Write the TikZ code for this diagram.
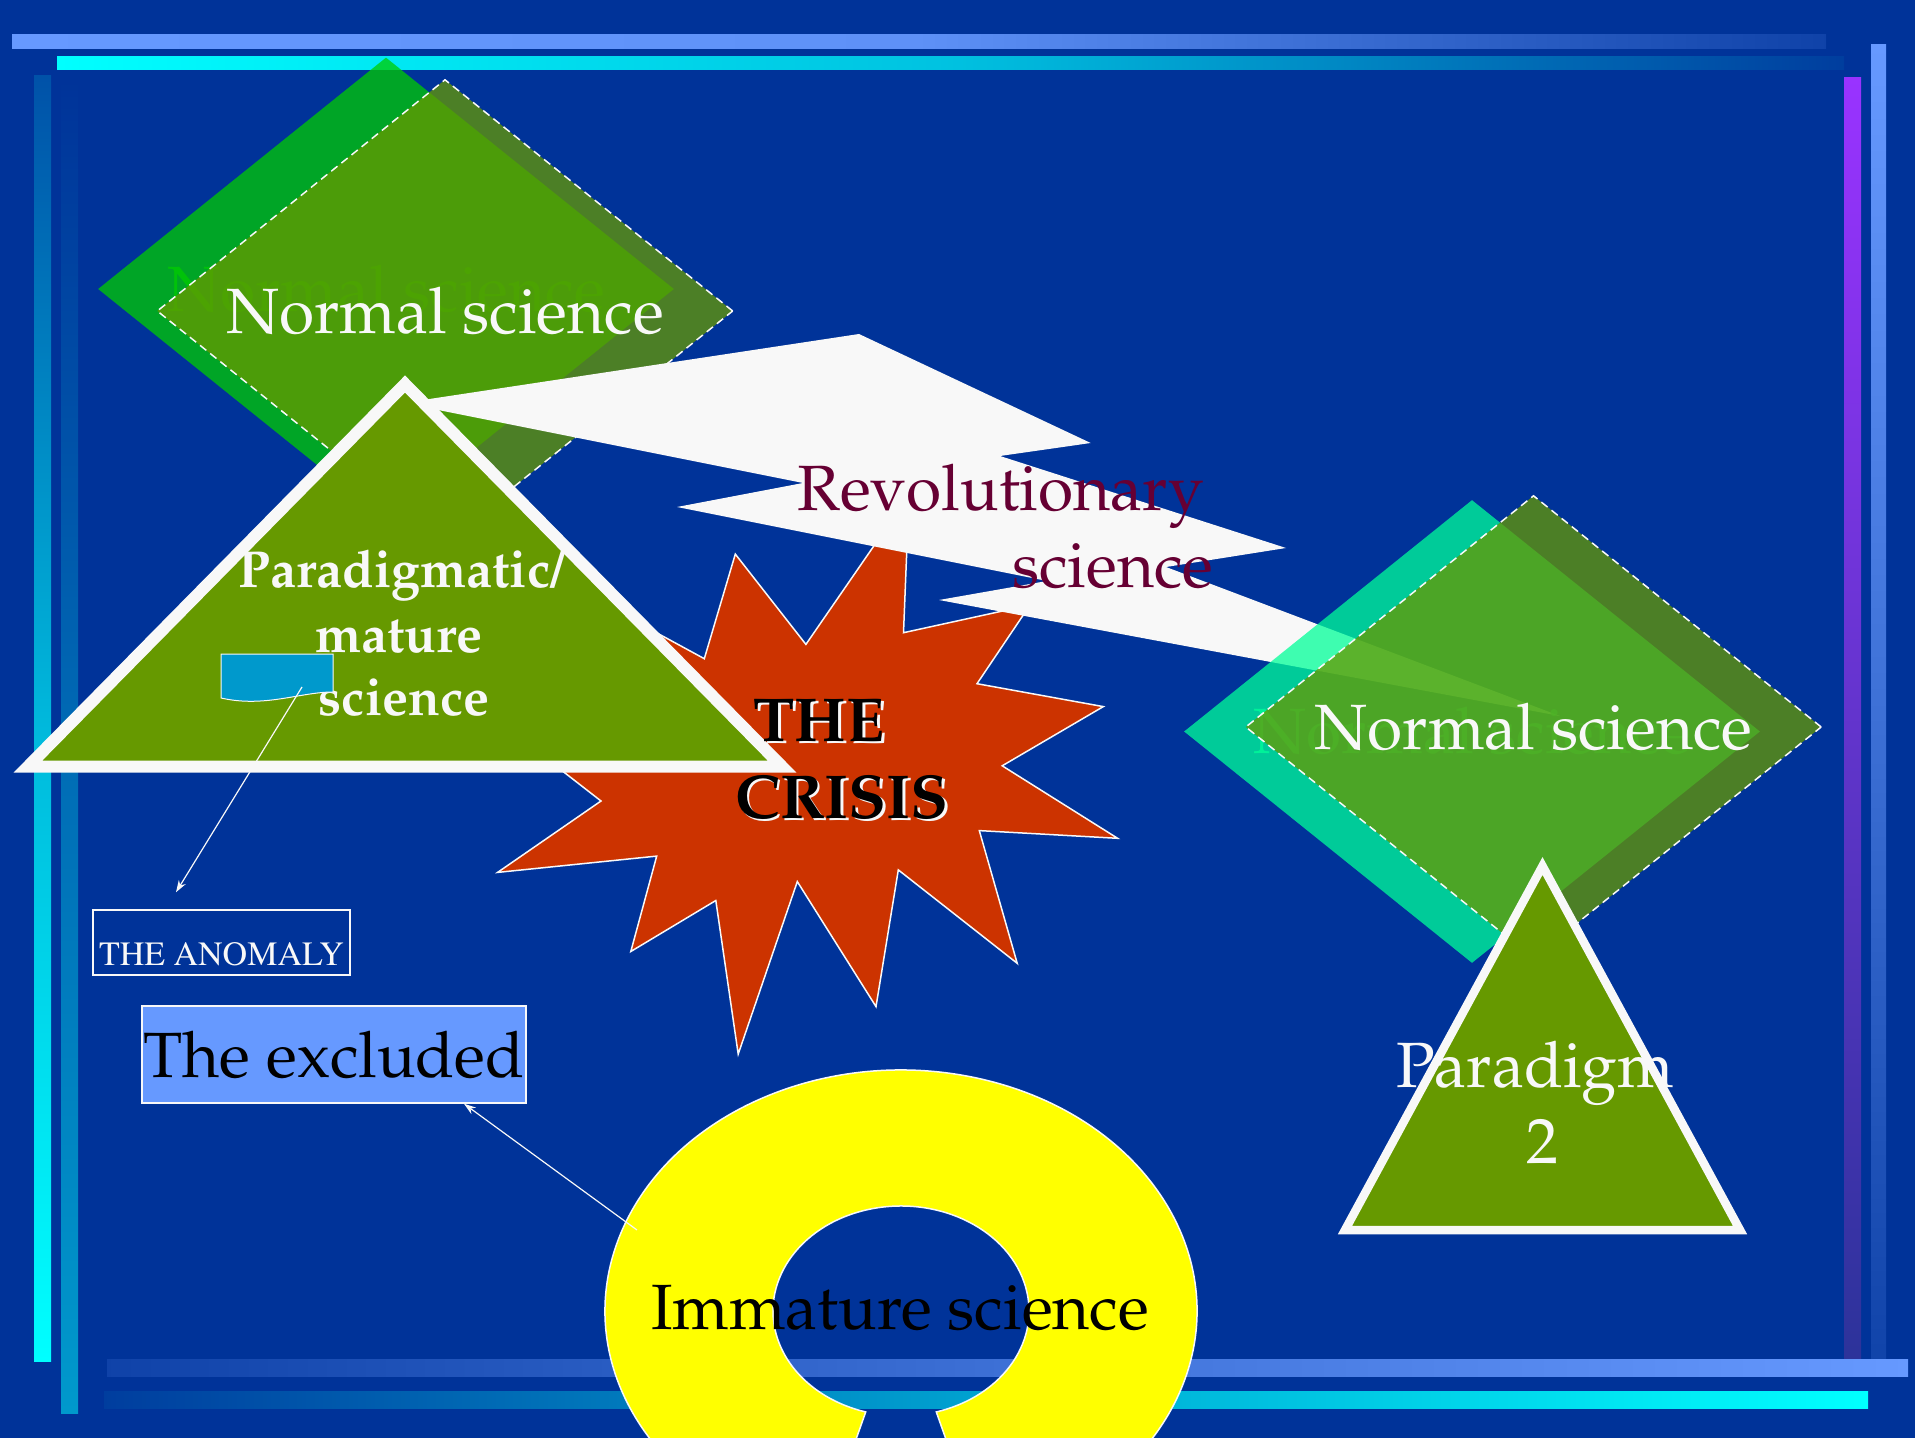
\documentclass[tikz,border=0pt]{standalone}
\usepackage[T1]{fontenc}
\renewcommand{\rmdefault}{ppl}
\usetikzlibrary{shapes.geometric,arrows.meta,calc}
\definecolor{bgblue}{HTML}{003399}
\definecolor{offwhite}{HTML}{F8F8F8}
\definecolor{shadegreen}{HTML}{00CC00}
\definecolor{olivegreen}{HTML}{669900}
\definecolor{mintgreen}{HTML}{00FF99}
\definecolor{crisisred}{HTML}{CC3300}
\definecolor{maroonc}{HTML}{660033}
\definecolor{paleblue}{HTML}{6699FF}
\definecolor{noteblue}{HTML}{0099CC}
\definecolor{ringyellow}{HTML}{FFFF00}
\definecolor{barpurple}{HTML}{9933FF}
\definecolor{barpurplemid}{HTML}{6234CC}
\definecolor{barpurpleend}{HTML}{2B3399}
\newcommand{\fsMain}{\fontsize{32}{38}\selectfont}
\newcommand{\fsBold}{\fontsize{26}{32}\selectfont\bfseries}
\newcommand{\fsCrisis}{\fontsize{31}{38}\selectfont\bfseries}
\newcommand{\fsTimes}{\fontfamily{ptm}\fontsize{17}{20}\selectfont}
\tikzset{
  diabase/.style={diamond, aspect=1.244, minimum width=288pt, minimum height=231.5pt, inner sep=0pt, font=\fsMain},
  shadowdia/.style={diabase, fill opacity=.75, text opacity=.75},
  frontdia/.style={diabase, fill=olivegreen, fill opacity=.75, text=offwhite, text opacity=1, draw=offwhite, draw opacity=1, line width=.75pt, dash pattern=on 4pt off 2.5pt},
  tri/.style={fill=olivegreen, draw=offwhite, line join=miter},
  lbl/.style={anchor=base, inner sep=0pt, font=\fsMain},
  conn/.style={draw=offwhite, line width=.6pt, -{Stealth[length=6pt,width=4pt]}},
  thinwhite/.style={draw=offwhite, line width=.75pt},
}
\begin{document}
\begin{tikzpicture}[x=0.5pt,y=-0.5pt]
\useasboundingbox (0,0) rectangle (1915,1438);
\fill[bgblue] (0,0) rectangle (1915,1438);
\begin{scope}
\clip (0,0) rectangle (1915,1438);
% decorative bars
\shade[left color=paleblue, right color=bgblue!85!paleblue, middle color=paleblue!92!bgblue] (12,35) rectangle (1826,49);
\shade[left color=cyan, right color=bgblue!95!cyan, middle color=cyan!70!bgblue] (57,57) rectangle (1844,70);
\shade[top color=bgblue!85!cyan, bottom color=cyan, middle color=cyan!65!bgblue] (34,76) rectangle (51,1361);
\shade[top color=bgblue, bottom color=noteblue, middle color=noteblue!55!bgblue] (61,79) rectangle (78,1413);
\shade[top color=barpurple, bottom color=barpurpleend, middle color=barpurplemid] (1844,78) rectangle (1861,1375);
\shade[top color=paleblue, bottom color=bgblue!85!paleblue, middle color=paleblue!60!bgblue] (1871,45) rectangle (1886,1375);
\shade[left color=bgblue!85!paleblue, right color=paleblue, middle color=paleblue!60!bgblue] (107,1359) rectangle (1908,1376);
\shade[left color=bgblue!95!cyan, right color=cyan, middle color=cyan!55!bgblue] (104,1391) rectangle (1868,1408);

% left diamonds
\node[shadowdia, fill=shadegreen, text=shadegreen] (nsLshadow) at (386,289) {Normal science};
\node[frontdia] (nsL) at (445,311) {Normal science};

% crisis star
\filldraw[fill=crisisred, thinwhite] (735.3,554.1) -- (805.9,644.4) -- (909,495) -- (903.5,632.7) -- (1030,605) -- (977,683.7) -- (1103.3,706.6) -- (1002.2,765.8) -- (1117.6,838.3) -- (979.3,830.6) -- (1017.2,963.3) -- (898.3,869.9) -- (876,1006.6) -- (797.3,881.6) -- (738.2,1054.1) -- (715.8,900.5) -- (630.8,951.5) -- (656.7,856.1) -- (497.6,872.4) -- (601,801) -- (520,738) -- (600,602) -- (704.3,658.7) -- cycle;

% lightning bolt
\fill[offwhite] (403,403) -- (859,334) -- (1090.7,443) -- (1000,456) -- (1286,548) -- (1166,567) -- (1560,716) -- (939,600) -- (1047,581) -- (677,507) -- (803,483) -- cycle;
\node[lbl, text=maroonc] (rev1) at (1000.5,510) {Revolutionary};
\node[lbl, text=maroonc] (rev2) at (1113,587) {science};

% paradigmatic triangle
\path[tri, line width=6pt] (405,384) -- (782,766.5) -- (28,766.5) -- cycle;
\node[lbl, font=\fsBold, text=offwhite] (pm1) at (402,587) {Paradigmatic/};
\node[lbl, font=\fsBold, text=offwhite] (pm2) at (399,652) {mature};
\node[lbl, font=\fsBold, text=offwhite] (pm3) at (404,715) {science};
\filldraw[fill=noteblue, draw=offwhite, line width=.5pt] (221,654) -- (333,654) -- (333,692) .. controls (300,692) and (265,708) .. (221,698) -- cycle;
\coordinate (notepin) at (302,687);

% crisis text
\node[lbl, font=\fsCrisis, text=offwhite] (theS) at (821.5,743.5) {THE};
\node[lbl, font=\fsCrisis, text=black] (the) at (819,741) {THE};
\node[lbl, font=\fsCrisis, text=offwhite] (crisisS) at (844.5,820.5) {CRISIS};
\node[lbl, font=\fsCrisis, text=black] (crisis) at (842,818) {CRISIS};

% right diamonds
\node[shadowdia, fill=mintgreen, text=mintgreen] (nsRshadow) at (1472,731.5) {Normal science};
\node[frontdia] (nsR) at (1533.5,727) {Normal science};

% paradigm 2 triangle
\path[tri, line width=4.25pt] (1542.5,866) -- (1740,1230) -- (1345,1230) -- cycle;
\node[lbl, text=offwhite] (p2a) at (1535,1087) {Paradigm};
\node[lbl, text=offwhite] (p2b) at (1542.5,1163) {2};

% immature science ring
\path[fill=ringyellow, thinwhite] ($(901,1311)+(106:296 and 241)$) arc[start angle=106,end angle=434,x radius=296,y radius=241] -- ($(901,1311)+(74:128 and 105)$) arc[start angle=74,end angle=-254,x radius=128,y radius=105] -- cycle;
\node[lbl, text=black] (immature) at (900,1329) {Immature science};
\coordinate (ringpt) at (637,1230);

% boxes
\node[thinwhite, minimum width=128.5pt, minimum height=32.5pt, inner sep=0pt, text height=22.5pt, text depth=0pt, text=offwhite, font=\fsTimes] (anomaly) at (221.5,942.5) {THE ANOMALY};
\node[thinwhite, fill=paleblue, minimum width=192pt, minimum height=48.5pt, inner sep=0pt, text height=22.5pt, text depth=0pt, text=black, font=\fsMain] (excluded) at (334,1054.5) {The excluded};

% connectors
\draw[conn] (notepin) -- ([shift={(-45.5,-17)}]anomaly.north);
\draw[conn] (ringpt) -- ([shift={(130,0)}]excluded.south);
\end{scope}
\end{tikzpicture}
\end{document}
